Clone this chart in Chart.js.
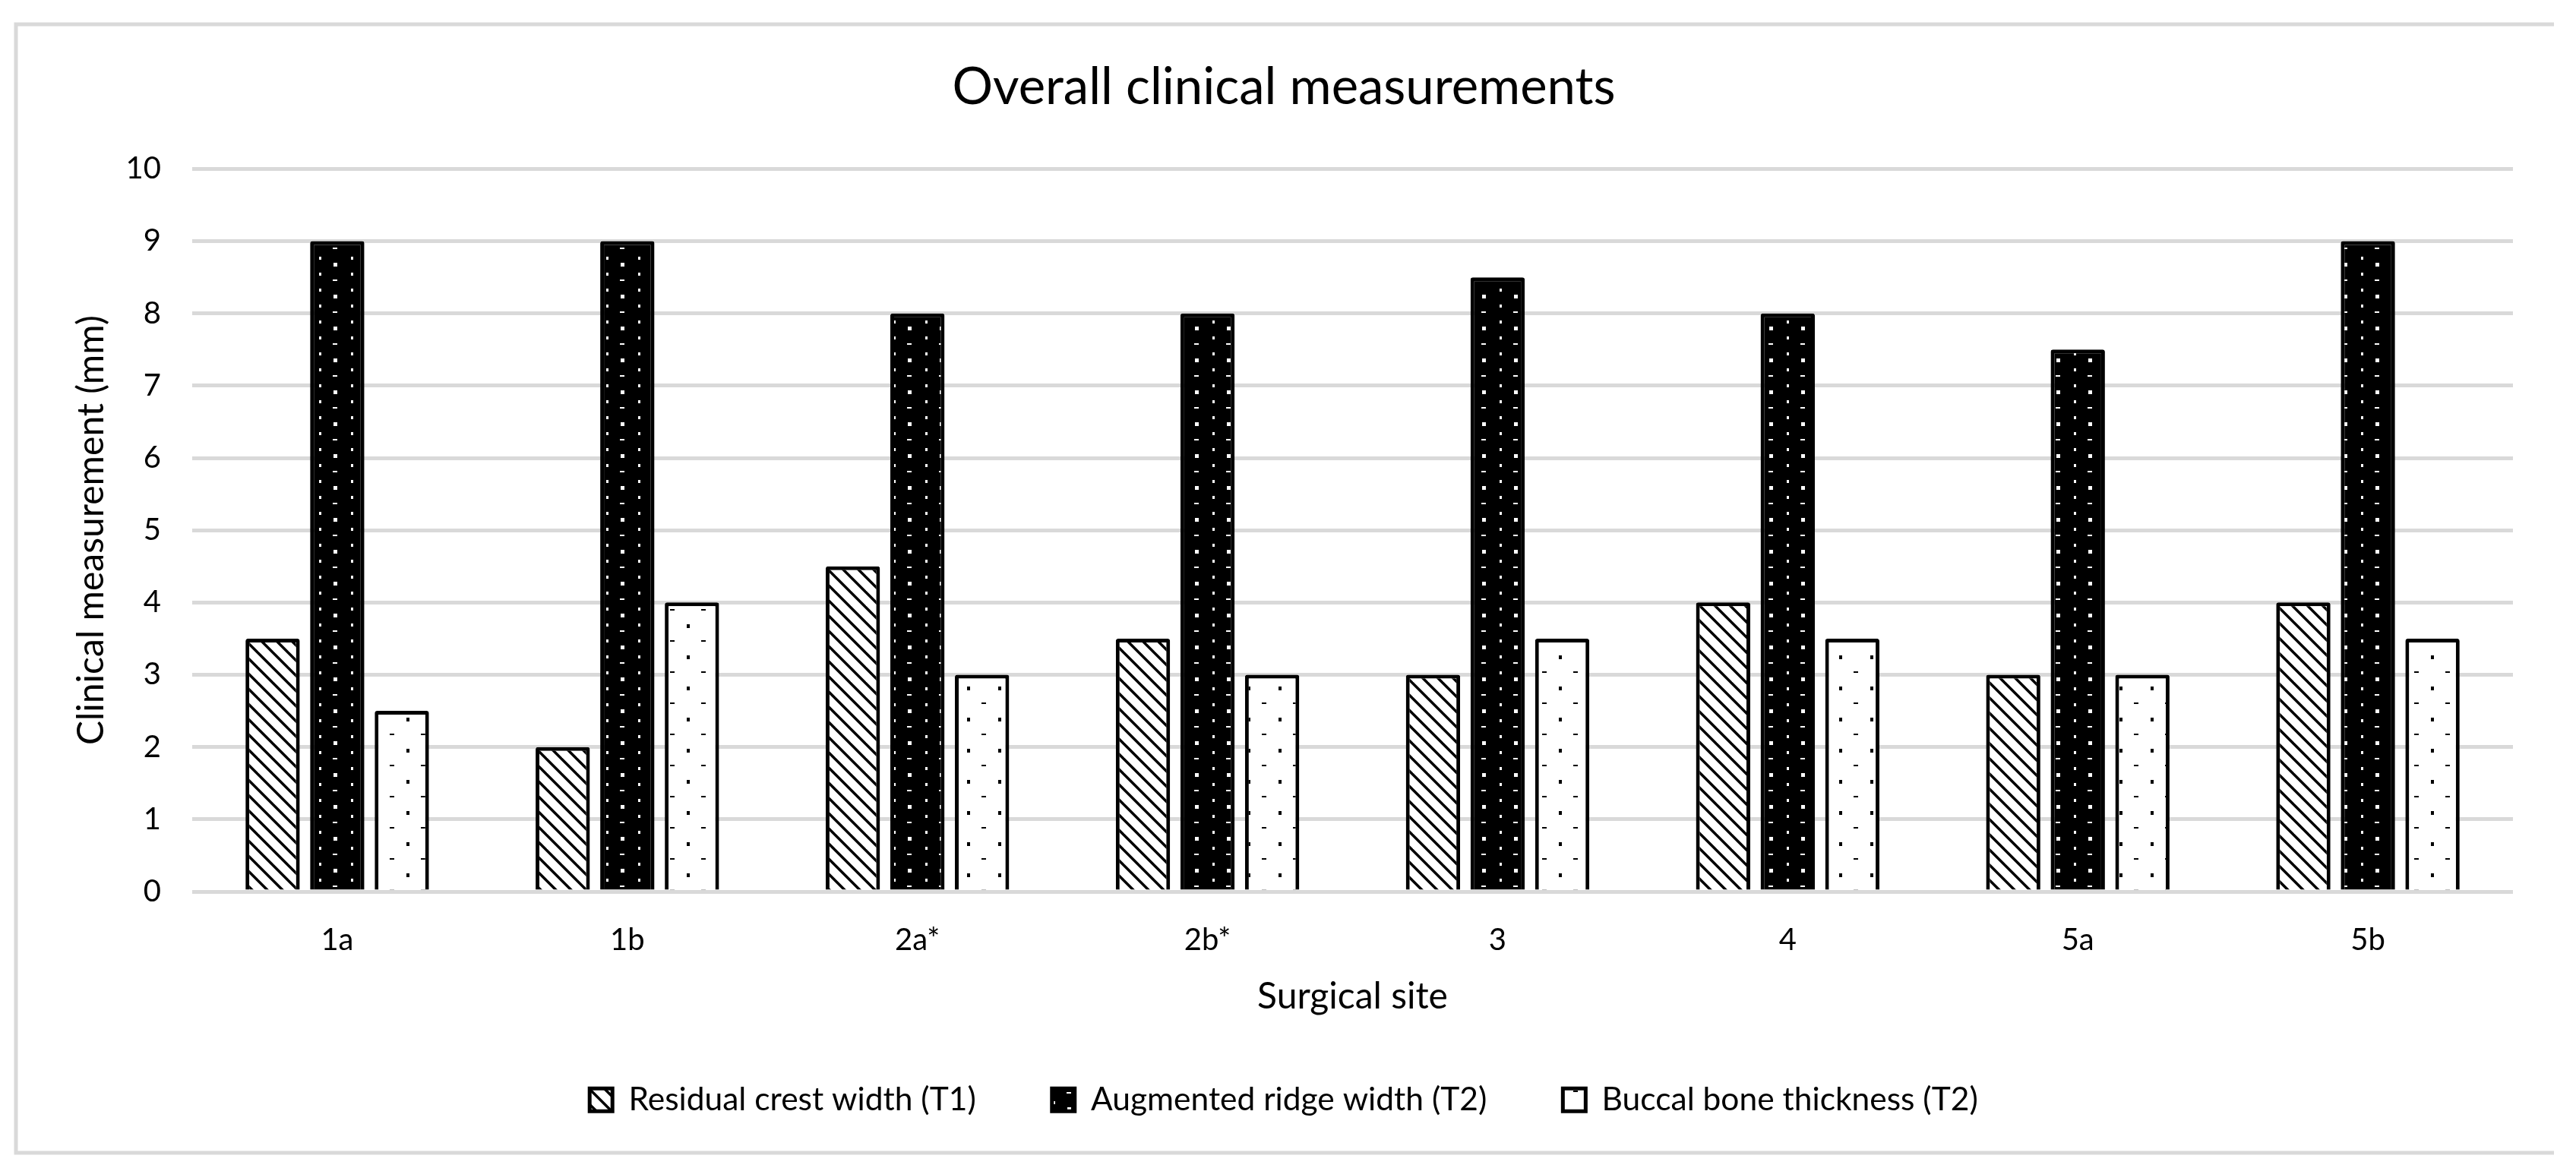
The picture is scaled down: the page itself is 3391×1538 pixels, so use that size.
<!DOCTYPE html>
<html>
<head>
<meta charset="utf-8">
<script src="https://cdn.jsdelivr.net/npm/chart.js@4.4.1/dist/chart.umd.min.js"></script>
<style>
  html, body { margin: 0; padding: 0; background: #ffffff; }
  #wrap { position: absolute; left: 0; top: 0; width: 3391px; height: 1538px; }
</style>
</head>
<body>
<div id="wrap"><canvas id="chart"></canvas></div>
<script>
// ---- data ----
const categories = ['1a', '1b', '2a*', '2b*', '3', '4', '5a', '5b'];
const residualCrestWidth = [3.5, 2, 4.5, 3.5, 3, 4, 3, 4];
const augmentedRidgeWidth = [9, 9, 8, 8, 8.5, 8, 7.5, 9];
const buccalBoneThickness = [2.5, 4, 3, 3, 3.5, 3.5, 3, 3.5];
const seriesNames = ['Residual crest width (T1)', 'Augmented ridge width (T2)', 'Buccal bone thickness (T2)'];
const yTickValues = [0, 1, 2, 3, 4, 5, 6, 7, 8, 9, 10];
const chartTitle = 'Overall clinical measurements';
const xTitle = 'Surgical site';
const yTitle = 'Clinical measurement (mm)';

// ---- patterns ----
function hatchPattern() {
  const s = 20, c = document.createElement('canvas');
  c.width = s; c.height = s;
  const g = c.getContext('2d');
  g.fillStyle = '#fff'; g.fillRect(0, 0, s, s);
  g.strokeStyle = '#000'; g.lineWidth = 3.5;
  for (let k = -1; k <= 1; k++) {
    g.beginPath(); g.moveTo(k * s - 2, -2); g.lineTo(k * s + s + 2, s + 2); g.stroke();
  }
  return g.createPattern(c, 'repeat');
}
function darkDotPattern() {
  const s = 42, c = document.createElement('canvas');
  c.width = s; c.height = s;
  const g = c.getContext('2d');
  g.fillStyle = '#000'; g.fillRect(0, 0, s, s);
  g.fillStyle = '#fff';
  g.fillRect(0, 2, 3, 4);
  g.fillRect(0, 23, 3, 4);
  g.fillRect(19, 10, 5, 5);
  g.fillRect(18, 32, 6, 2);
  return g.createPattern(c, 'repeat');
}
function lightDotPattern() {
  const s = 41, c = document.createElement('canvas');
  c.width = s; c.height = s;
  const g = c.getContext('2d');
  g.fillStyle = '#fff'; g.fillRect(0, 0, s, s);
  g.fillStyle = '#000';
  g.fillRect(2, 2, 4, 5);
  g.fillRect(21, 23, 6, 2);
  return g.createPattern(c, 'repeat');
}

const LEGEND_H = 189;
const LEGEND_SHIFT = -22;

const frameAndLegendPlugin = {
  id: 'frameAndLegend',
  beforeLayout(chart) {
    const lg = chart.legend;
    if (lg && !lg._fixedH) {
      const f = lg.fit;
      lg.fit = function () { f.call(this); if (this.isHorizontal()) this.height = LEGEND_H; };
      const d = lg.draw;
      lg.draw = function () {
        const ctx = this.ctx;
        ctx.save();
        ctx.translate(0, LEGEND_SHIFT);
        d.apply(this, arguments);
        ctx.restore();
      };
      lg._fixedH = true;
    }
  },
  beforeDraw(chart) {
    const ctx = chart.ctx;
    ctx.save();
    ctx.strokeStyle = '#d9d9d9';
    ctx.lineWidth = 5;
    ctx.beginPath();
    ctx.moveTo(3362, 32); ctx.lineTo(21, 32); ctx.lineTo(21, 1518); ctx.lineTo(3362, 1518);
    ctx.stroke();
    ctx.restore();
  }
};

function build() {
  const common = {
    borderColor: '#000000',
    borderWidth: 5,
    borderRadius: 3,
    categoryPercentage: 0.668,
    barPercentage: 0.84
  };
  new Chart(document.getElementById('chart'), {
    type: 'bar',
    data: {
      labels: categories,
      datasets: [
        Object.assign({ label: seriesNames[0], data: residualCrestWidth, backgroundColor: hatchPattern() }, common),
        Object.assign({ label: seriesNames[1], data: augmentedRidgeWidth, backgroundColor: darkDotPattern() }, common),
        Object.assign({ label: seriesNames[2], data: buccalBoneThickness, backgroundColor: lightDotPattern() }, common)
      ]
    },
    options: {
      responsive: true,
      maintainAspectRatio: false,
      animation: false,
      devicePixelRatio: 1,
      layout: { padding: { left: 72, right: 83, top: 30, bottom: 0 } },
      plugins: {
        title: {
          display: true,
          text: chartTitle,
          color: '#000',
          font: { family: 'Lato', size: 67, weight: 'normal' },
          padding: { top: 45, bottom: 67 }
        },
        legend: {
          display: true,
          position: 'bottom',
          labels: {
            color: '#000',
            font: { family: 'Lato', size: 42.5 },
            boxWidth: 30,
            boxHeight: 30,
            padding: 100
          }
        },
        tooltip: { enabled: false }
      },
      scales: {
        x: {
          afterFit(scale) { scale.height = 175; },
          grid: { display: false, drawTicks: false },
          border: { display: false },
          ticks: { color: '#000', font: { family: 'Lato', size: 40 }, padding: 40, maxRotation: 0 },
          title: { display: true, text: xTitle, color: '#000', font: { family: 'Lato', size: 48 }, padding: { top: 30, bottom: 8 } }
        },
        y: {
          min: 0,
          max: 10,
          afterFit(scale) { scale.width = 181; },
          afterBuildTicks(scale) { scale.ticks = yTickValues.map(v => ({ value: v })); },
          grid: { color: '#d9d9d9', lineWidth: 5, drawTicks: false },
          border: { display: false },
          ticks: { color: '#000', font: { family: 'Lato', size: 40 }, padding: 41 },
          title: { display: true, text: yTitle, color: '#000', font: { family: 'Lato', size: 48 }, padding: { top: 20, bottom: 0 } }
        }
      }
    },
    plugins: [frameAndLegendPlugin]
  });
}

Promise.all([
  document.fonts.load('64px Lato'),
  document.fonts.load('40px Lato')
]).then(build, build);
</script>
</body>
</html>
